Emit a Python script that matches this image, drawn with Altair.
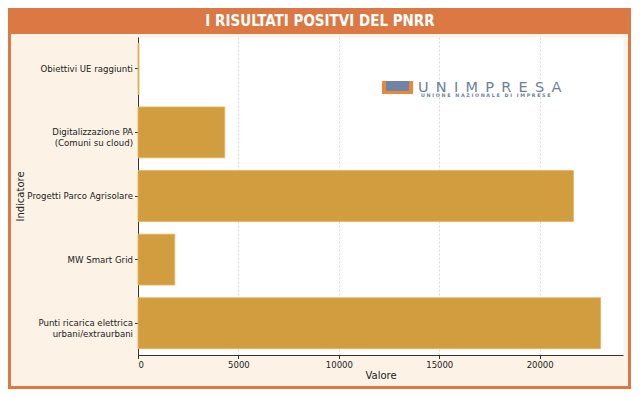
import altair as alt
import pandas as pd

# ---- data ----
categories = [
    "Obiettivi UE raggiunti",
    "Digitalizzazione PA\n(Comuni su cloud)",
    "Progetti Parco Agrisolare",
    "MW Smart Grid",
    "Punti ricarica elettrica\nurbani/extraurbani",
]
values = [50, 4320, 21680, 1830, 23030]
x_ticks = [0, 5000, 10000, 15000, 20000]

title_text = "I RISULTATI POSITVI DEL PNRR"
logo_main = "\u2002".join("UNIMPRESA")
logo_sub = "\u2002\u2002".join(" ".join(w) for w in ["UNIONE", "NAZIONALE", "DI", "IMPRESE"])

df = pd.DataFrame({"Indicatore": categories, "Valore": values})
one = pd.DataFrame({"k": [0]})

ORANGE = "#dc7843"
CREAM = "#fcf3e6"
BAR = "#d29d3e"
W, H = 485, 318

frame = alt.Chart(one).mark_rect(fill="transparent", stroke=ORANGE, strokeWidth=3).encode(
    x=alt.value(-128.5), x2=alt.value(491.5), y=alt.value(-27.5), y2=alt.value(350.5)
)
title_bar = alt.Chart(one).mark_rect(fill=ORANGE).encode(
    x=alt.value(-130), x2=alt.value(493), y=alt.value(-29), y2=alt.value(-3)
)
title = alt.Chart(one).mark_text(
    font="DejaVu Sans Condensed, Roboto, sans-serif", fontWeight="bold", fontSize=15, color="white",
    align="center", baseline="middle"
).encode(x=alt.value(182), y=alt.value(-16), text=alt.value(title_text))

bars = alt.Chart(df).mark_bar(color=BAR, stroke="#e3b45c", strokeWidth=0.8).encode(
    y=alt.Y("Indicatore:N", sort=categories,
            scale=alt.Scale(paddingInner=0.2, paddingOuter=0.1),
            axis=alt.Axis(title="Indicatore", labelExpr="split(datum.label, '\\n')",
                          labelFontSize=8.6, labelColor="#222", labelFont="DejaVu Sans",
                          labelPadding=2, labelLineHeight=11,
                          tickSize=3.5, tickColor="#333", domainColor="#333",
                          titleFontSize=10, titleFont="DejaVu Sans", titleFontWeight="normal",
                          titleColor="#222", titleX=-118, titleY=159, titleAngle=270,
                          titleBaseline="middle", titleAlign="center", grid=False)),
    x=alt.X("Valore:Q", scale=alt.Scale(domain=[0, 24150], nice=False, zero=True),
            axis=alt.Axis(title="Valore", values=x_ticks, format="d",
                          labelFontSize=8.5, labelColor="#222", labelFont="DejaVu Sans",
                          labelPadding=2, tickSize=3.5, tickColor="#333", domainColor="#333",
                          grid=True, gridDash=[2, 2], gridColor="#cfcfcf", gridWidth=0.8,
                          titleFontSize=10, titleFont="DejaVu Sans", titleFontWeight="normal",
                          titleColor="#222", titleY=20, titleBaseline="middle")),
)

logo_u = alt.Chart(one).mark_rect(fill="#e8893a").encode(
    x=alt.value(244), x2=alt.value(275), y=alt.value(44), y2=alt.value(57)
)
logo_sq = alt.Chart(one).mark_rect(fill="#6f84a8").encode(
    x=alt.value(248), x2=alt.value(271), y=alt.value(44), y2=alt.value(54)
)
logo_txt = alt.Chart(one).mark_text(
    font="DejaVu Sans", fontSize=14.5, color="#6e7f9c", align="left", baseline="alphabetic"
).encode(x=alt.value(280), y=alt.value(54.5), text=alt.value(logo_main))
logo_sub_txt = alt.Chart(one).mark_text(
    font="DejaVu Sans", fontSize=4.8, fontWeight="bold", color="#6e7f9c", align="left",
    baseline="alphabetic"
).encode(x=alt.value(283), y=alt.value(60), text=alt.value(logo_sub))

chart = alt.layer(frame, title_bar, title, bars, logo_u, logo_sq, logo_txt, logo_sub_txt).properties(
    width=W, height=H,
    padding={"left": 130, "top": 29, "right": 8, "bottom": 34},
    autosize=alt.AutoSizeParams(type="none"),
    background=CREAM,
).configure_view(fill="white", stroke="transparent")

chart.save("out.html", embed_options={"renderer": "svg", "actions": False})
